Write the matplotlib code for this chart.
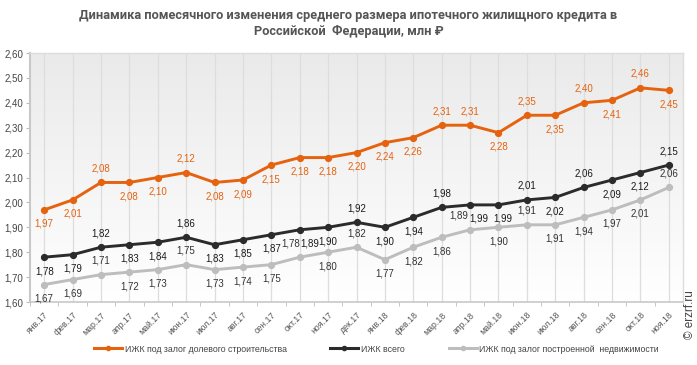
import matplotlib
matplotlib.use("Agg")
import matplotlib.pyplot as plt
import numpy as np
from matplotlib.lines import Line2D
from matplotlib.colors import LinearSegmentedColormap

months = ["янв.17", "фев.17", "мар.17", "апр.17", "май.17", "июн.17", "июл.17", "авг.17",
          "сен.17", "окт.17", "ноя.17", "дек.17", "янв.18", "фев.18", "мар.18", "апр.18",
          "май.18", "июн.18", "июл.18", "авг.18", "сен.18", "окт.18", "ноя.18"]
shared = [1.97, 2.01, 2.08, 2.08, 2.10, 2.12, 2.08, 2.09, 2.15, 2.18, 2.18, 2.20,
          2.24, 2.26, 2.31, 2.31, 2.28, 2.35, 2.35, 2.40, 2.41, 2.46, 2.45]
total = [1.78, 1.79, 1.82, 1.83, 1.84, 1.86, 1.83, 1.85, 1.87, 1.89, 1.90, 1.92,
         1.90, 1.94, 1.98, 1.99, 1.99, 2.01, 2.02, 2.06, 2.09, 2.12, 2.15]
built = [1.67, 1.69, 1.71, 1.72, 1.73, 1.75, 1.73, 1.74, 1.75, 1.78, 1.80, 1.82,
         1.77, 1.82, 1.86, 1.89, 1.90, 1.91, 1.91, 1.94, 1.97, 2.01, 2.06]
# label placement: 1 = above, -1 = below
shared_pos = [-1, -1, 1, -1, -1, 1, -1, -1, -1, -1, -1, -1, -1, -1, 1, 1, -1, 1, -1, 1, -1, 1, -1]
total_pos = [-1, -1, 1, -1, -1, 1, -1, -1, -1, -1, -1, 1, -1, -1, 1, -1, -1, 1, -1, 1, -1, -1, 1]
built_pos = [-1, -1, 1, -1, -1, 1, -1, -1, -1, 1, -1, 1, -1, -1, -1, 1, -1, 1, -1, -1, -1, -1, 1]
yticks = [1.60, 1.70, 1.80, 1.90, 2.00, 2.10, 2.20, 2.30, 2.40, 2.50, 2.60]

series_names = ["ИЖК под залог долевого строительства", "ИЖК всего",
                "ИЖК под залог построенной  недвижимости"]
colors = ["#E5620F", "#2B2B2B", "#BDBDBD"]
label_colors = ["#E5620F", "#1A1A1A", "#333333"]

plt.rcParams['font.family'] = ['Liberation Sans', 'DejaVu Sans']

fig = plt.figure(figsize=(6.97, 3.65), dpi=100)
ax = fig.add_axes([30/697, 1-302/365, (683-30)/697, (302-53)/365])

x = np.arange(len(months))

grad = np.linspace(1, 0, 256).reshape(-1, 1)
cmap = LinearSegmentedColormap.from_list("bg", ["#FFFFFF", "#EAEAEA"])
ax.imshow(grad, extent=[0, 1, 0, 1], transform=ax.transAxes, aspect='auto',
          cmap=cmap, zorder=0, vmin=0, vmax=1)

for xi in x:
    ax.axvline(xi, color="#DDDDDD", lw=0.9, zorder=1)

data = [shared, total, built]
poss = [shared_pos, total_pos, built_pos]
nudges = {(1, 9): 7.5, (2, 9): -6.5, (1, 15): 6.5, (2, 15): -8, (1, 16): 3}
for si, (vals, pos, c, lc) in enumerate(zip(data, poss, colors, label_colors)):
    ax.plot(x, vals, color=c, lw=2.1, marker='o', ms=4.2, mfc=c, mec=c, zorder=3,
            solid_capstyle='round')
    for xi, v, p in zip(x, vals, pos):
        dx = nudges.get((si, int(xi)), 0)
        ax.annotate(f"{v:.2f}".replace('.', ','), (xi, v), xytext=(dx, 6.5 * p),
                    textcoords='offset points', ha='center',
                    va='bottom' if p > 0 else 'top', fontsize=7, color=lc, zorder=4)

ax.set_xlim(-0.5, len(months) - 0.5)
ax.set_ylim(1.60, 2.60)
ax.set_yticks(yticks)
ax.set_yticklabels([f"{t:.2f}".replace('.', ',') for t in yticks], fontsize=7, color="#444444")
ax.set_xticks(x)
ax.set_xticklabels(months, rotation=45, ha='right', rotation_mode='anchor', fontsize=6.3, color="#555555")
ax.tick_params(axis='x', length=0, pad=6)
ax.set_xticks(np.arange(-0.5, len(months), 1), minor=True)
ax.tick_params(axis='x', which='minor', length=3, color="#BBBBBB")
ax.tick_params(axis='y', length=3, color="#BBBBBB", pad=2)

for s in ['top', 'right']:
    ax.spines[s].set_color("#DDDDDD")
    ax.spines[s].set_linewidth(1)
ax.spines['left'].set_color("#C8C8C8")
ax.spines['left'].set_linewidth(1.5)
ax.spines['bottom'].set_color("#C8C8C8")
ax.spines['bottom'].set_linewidth(1.2)

fig.text(0.5, 1 - 16/365, "Динамика помесячного изменения среднего размера ипотечного жилищного кредита в",
         ha='center', va='center', fontsize=9.2, fontweight='bold', color="#555555", family=['Roboto', 'DejaVu Sans'])
fig.text(0.5, 1 - 32/365, "Российской  Федерации, млн ₽",
         ha='center', va='center', fontsize=9.2, fontweight='bold', color="#555555", family=['Roboto', 'DejaVu Sans'])

handles = [Line2D([0], [0], color=c, lw=2.2, marker='o', ms=3, mfc=c, mec=c) for c in colors]
fig.legend(handles, series_names, loc='center', bbox_to_anchor=(0.54, 1 - 349/365), ncol=3,
           frameon=False, fontsize=6.3, handlelength=3.2, columnspacing=5, handletextpad=0.3,
           labelcolor="#444444")

fig.text(690/697, 1 - 315/365, "© erzrf.ru", rotation=90, ha='center', va='center',
         fontsize=8.5, color="#444444")

fig.savefig("out.png", dpi=100)
